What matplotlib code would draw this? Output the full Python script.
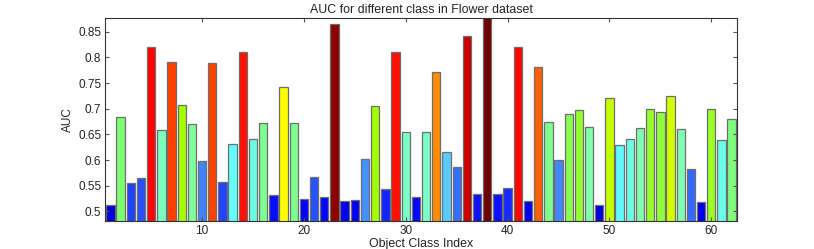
import matplotlib.pyplot as plt
import numpy as np
from matplotlib.colors import LinearSegmentedColormap, Normalize
from matplotlib.ticker import FormatStrFormatter

plt.rcParams['font.family'] = ['Liberation Sans', 'DejaVu Sans']

# AUC per object class (classes 1..62)
class_idx = np.arange(1, 63)
auc = [0.512, 0.683, 0.555, 0.566, 0.821, 0.658, 0.790, 0.708, 0.670, 0.599,
       0.789, 0.557, 0.631, 0.810, 0.642, 0.672, 0.532, 0.742, 0.673, 0.525,
       0.567, 0.528, 0.864, 0.521, 0.523, 0.603, 0.706, 0.543, 0.810, 0.654,
       0.529, 0.654, 0.771, 0.616, 0.586, 0.842, 0.534, 0.885, 0.533, 0.545,
       0.820, 0.520, 0.781, 0.674, 0.601, 0.690, 0.697, 0.664, 0.512, 0.720,
       0.629, 0.642, 0.663, 0.699, 0.694, 0.725, 0.661, 0.583, 0.519, 0.700,
       0.640, 0.679]

# jet-like colour scale as it appears in the figure
anchors = [
    (0.505, (0.0, 0.0, 0.78)),
    (0.525, (0.0, 0.0, 1.0)),
    (0.555, (0.13, 0.25, 1.0)),
    (0.600, (0.25, 0.52, 1.0)),
    (0.616, (0.35, 0.8, 1.0)),
    (0.630, (0.38, 1.0, 1.0)),
    (0.660, (0.5, 1.0, 0.72)),
    (0.683, (0.5, 1.0, 0.45)),
    (0.708, (0.65, 1.0, 0.0)),
    (0.742, (1.0, 1.0, 0.0)),
    (0.771, (1.0, 0.55, 0.0)),
    (0.786, (1.0, 0.3, 0.0)),
    (0.805, (1.0, 0.08, 0.0)),
    (0.825, (1.0, 0.0, 0.0)),
    (0.864, (0.55, 0.0, 0.0)),
    (0.890, (0.4, 0.0, 0.0)),
]
vmin, vmax = anchors[0][0], anchors[-1][0]
cmap = LinearSegmentedColormap.from_list(
    'auc', [((v - vmin) / (vmax - vmin), c) for v, c in anchors], N=512)
norm = Normalize(vmin, vmax)

fig = plt.figure(figsize=(8.14, 2.49), dpi=100)
ax = fig.add_axes([0.1294, 0.1137, 0.9051 - 0.1294, 0.9265 - 0.1137])

ax.bar(class_idx, auc, width=0.82, color=cmap(norm(np.array(auc))),
       edgecolor='#6e6e6e', linewidth=0.9)

ax.set_xlim(0.5, 62.5)
ax.set_ylim(0.482, 0.876)
ax.set_xticks([10, 20, 30, 40, 50, 60])
ax.set_yticks(np.arange(0.5, 0.851, 0.05))
ax.yaxis.set_major_formatter(FormatStrFormatter('%g'))
ax.tick_params(direction='in', length=3, width=0.8, color='#555555',
               labelsize=8.5, labelcolor='#222222', top=True, right=True, pad=3)
for s in ax.spines.values():
    s.set_color('#333333')
    s.set_linewidth(0.8)

ax.set_title('AUC for different class in Flower dataset', fontsize=8.9, pad=4,
             color='#222222')
ax.set_xlabel('Object Class Index', fontsize=8.9, labelpad=1, color='#222222')
ax.set_ylabel('AUC', fontsize=8.5, labelpad=3, color='#222222')

fig.savefig('out.png', dpi=100)
